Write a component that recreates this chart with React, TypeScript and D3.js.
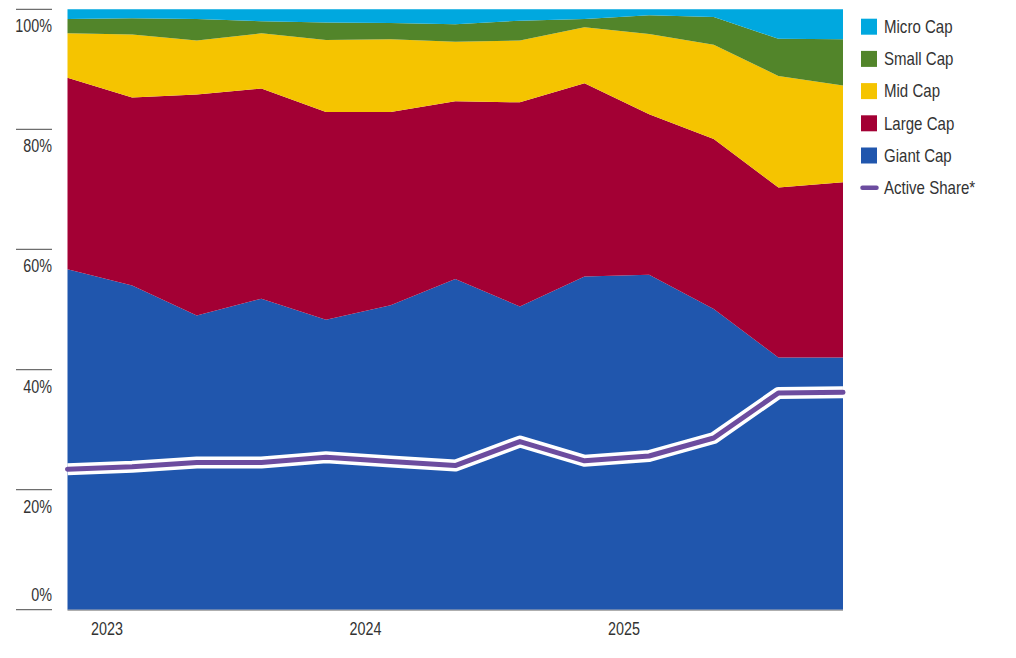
import React from 'react';
import * as d3 from 'd3';

// quarterly snapshots, Q4 2022 .. Q4 2025 (percent of portfolio)
const quarters = [
  '2022Q4', '2023Q1', '2023Q2', '2023Q3', '2023Q4', '2024Q1', '2024Q2',
  '2024Q3', '2024Q4', '2025Q1', '2025Q2', '2025Q3', '2025Q4',
];
const giantCap = [56.7, 54.0, 49.0, 51.8, 48.3, 50.7, 55.1, 50.5, 55.5, 55.8, 50.1, 42.0, 42.0];
const largeCap = [31.9, 31.3, 36.8, 35.0, 34.6, 32.2, 29.6, 34.0, 32.2, 26.7, 28.3, 28.3, 29.2];
const midCap = [7.4, 10.5, 9.0, 9.2, 12.0, 12.1, 9.9, 10.3, 9.3, 13.4, 15.7, 18.6, 16.1];
const smallCap = [2.4, 2.7, 3.6, 2.0, 2.9, 2.7, 2.9, 3.3, 1.4, 3.1, 4.6, 6.2, 7.7];
const microCap = [1.6, 1.5, 1.6, 2.0, 2.2, 2.3, 2.5, 1.9, 1.6, 1.0, 1.3, 4.9, 5.0];
const activeShare = [23.4, 23.8, 24.5, 24.5, 25.4, 24.7, 24.0, 28.0, 24.8, 25.6, 28.6, 36.1, 36.2];

const years = ['2023', '2024', '2025'];
const yTicks = [0, 20, 40, 60, 80, 100];

const series = [
  { key: 'giant', name: 'Giant Cap', color: '#2056ad', values: giantCap },
  { key: 'large', name: 'Large Cap', color: '#a30034', values: largeCap },
  { key: 'mid', name: 'Mid Cap', color: '#f5c400', values: midCap },
  { key: 'small', name: 'Small Cap', color: '#52852a', values: smallCap },
  { key: 'micro', name: 'Micro Cap', color: '#00a8df', values: microCap },
];

const PURPLE = '#6c4c9f';
const FONT = "'Liberation Sans', Arial, sans-serif";
const TEXT = '#333';

const width = 1016;
const height = 658;
const left = 67.5;
const right = 843;
const top = 9.3;
const bottom = 609.7;

// condensed face: squeeze a regular sans horizontally
const Narrow = ({ x, y, anchor = 'start', size = 17, sx = 0.82, children }: any) => (
  <g transform={`translate(${x},${y}) scale(${sx},1)`}>
    <text textAnchor={anchor} fontFamily={FONT} fontSize={size} fill={TEXT}>{children}</text>
  </g>
);

export default function App() {
  const rows = quarters.map((q, i) => {
    const row: Record<string, number | string> = { q };
    series.forEach(s => { row[s.key] = s.values[i]; });
    return row;
  });

  const x = d3.scaleLinear().domain([0, quarters.length - 1]).range([left, right]);
  const y = d3.scaleLinear().domain([0, 100]).range([bottom, top]);

  const stacked = d3.stack<any>().keys(series.map(s => s.key))(rows);

  const area = d3.area<any>()
    .x((_, i) => x(i))
    .y0(d => y(d[0]))
    .y1(d => y(d[1]));

  const line = d3.line<number>()
    .x((_, i) => x(i))
    .y(d => y(d));

  const legend = [...series].reverse();

  return (
    <div style={{ position: 'absolute', left: 0, top: 0 }}>
      <svg width={width} height={height} style={{ display: 'block' }}>
        <rect width={width} height={height} fill="#fff" />

        {stacked.map((layer, i) => (
          <path key={layer.key} d={area(layer) || ''} fill={series[i].color} />
        ))}

        {/* active share: white halo under a purple stroke */}
        <path d={line(activeShare) || ''} fill="none" stroke="#fff" strokeWidth={12} strokeLinejoin="round" />
        <path d={line(activeShare) || ''} fill="none" stroke={PURPLE} strokeWidth={5}
          strokeLinejoin="round" strokeLinecap="round" />

        <line x1={left} x2={right} y1={bottom + 0.5} y2={bottom + 0.5} stroke="#8a8a8a" strokeWidth={1} />

        {/* y axis */}
        {yTicks.map(t => (
          <g key={t}>
            <line x1={16} x2={52} y1={y(t)} y2={y(t)} stroke="#6e6e6e" strokeWidth={1.2} />
            <Narrow x={52} y={t === 0 ? y(t) - 8.7 : y(t) + 23} anchor="end" size={17.5}>{t}%</Narrow>
          </g>
        ))}

        {/* x axis years */}
        {years.map((yr, i) => (
          <Narrow key={yr} x={x(i * 4 + 0.61)} y={635} anchor="middle" size={17.5}>{yr}</Narrow>
        ))}

        {/* legend */}
        <g transform="translate(861,0)">
          {legend.map((s, i) => (
            <g key={s.key} transform={`translate(0,${26.7 + i * 32.2})`}>
              <rect x={0} y={-8} width={16} height={16} fill={s.color} />
              <Narrow x={23} y={6.3} size={17.5} sx={0.86}>{s.name}</Narrow>
            </g>
          ))}
          <g transform={`translate(0,${26.7 + 5 * 32.2})`}>
            <line x1={1.5} x2={15.5} y1={0} y2={0} stroke={PURPLE} strokeWidth={4.5} strokeLinecap="round" />
            <Narrow x={23} y={6.3} size={17.5} sx={0.86}>Active Share*</Narrow>
          </g>
        </g>
      </svg>
    </div>
  );
}
